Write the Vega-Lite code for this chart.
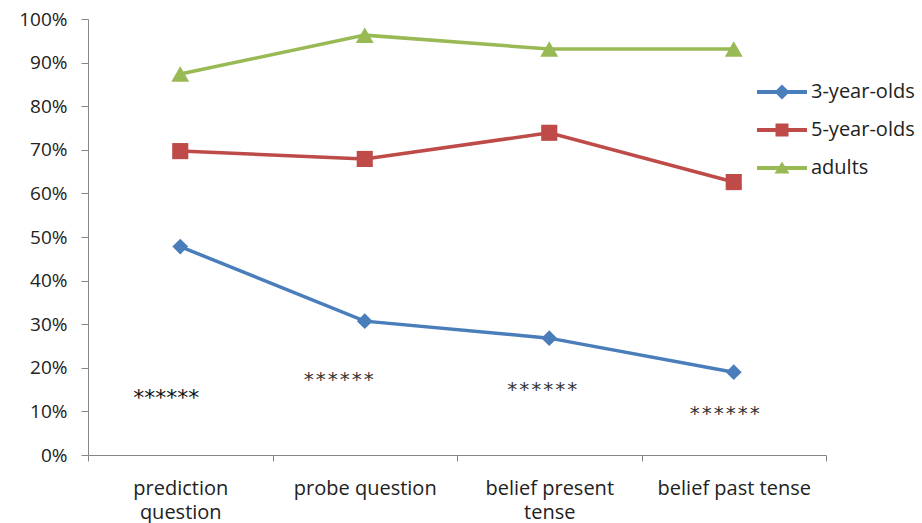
{
  "$schema": "https://vega.github.io/schema/vega-lite/v6.json",
  "width": 738,
  "height": 436,
  "autosize": {"type": "none"},
  "padding": {"left": 88, "top": 19, "right": 96, "bottom": 68},
  "background": "white",
  "config": {
    "view": {"stroke": null},
    "font": "Open Sans",
    "axis": {"domainColor": "#868686", "tickColor": "#868686", "labelColor": "#222", "labelFont": "Open Sans", "labelFontSize": 20, "grid": false, "title": null},
    "legend": {"title": null, "orient": "none", "legendX": 684, "legendY": 63, "padding": 0, "symbolOpacity": 1, "symbolStrokeWidth": 0,
               "symbolSize": 400, "rowPadding": 18, "labelOffset": 19, "labelFontSize": 20, "labelFont": "Open Sans", "labelColor": "#222"}
  },
  "datasets": {
    "scores": [
      {"q": "prediction question", "group": "3-year-olds", "v": 0.478},
      {"q": "probe question", "group": "3-year-olds", "v": 0.307},
      {"q": "belief present tense", "group": "3-year-olds", "v": 0.268},
      {"q": "belief past tense", "group": "3-year-olds", "v": 0.19},
      {"q": "prediction question", "group": "5-year-olds", "v": 0.697},
      {"q": "probe question", "group": "5-year-olds", "v": 0.679},
      {"q": "belief present tense", "group": "5-year-olds", "v": 0.739},
      {"q": "belief past tense", "group": "5-year-olds", "v": 0.626},
      {"q": "prediction question", "group": "adults", "v": 0.874},
      {"q": "probe question", "group": "adults", "v": 0.963},
      {"q": "belief present tense", "group": "adults", "v": 0.931},
      {"q": "belief past tense", "group": "adults", "v": 0.931}
    ],
    "stars": [
      {"q": "prediction question", "label": "******", "v": 0.13},
      {"q": "probe question", "label": "******", "v": 0.173},
      {"q": "belief present tense", "label": "******", "v": 0.148},
      {"q": "belief past tense", "label": "******", "v": 0.094}
    ]
  },
  "layer": [
    {
      "data": {"name": "scores"},
      "mark": {"type": "point", "filled": true, "opacity": 0, "size": 400},
      "encoding": {
        "x": {"field": "q", "type": "nominal", "sort": null,
              "scale": {"type": "band", "paddingInner": 0, "paddingOuter": 0},
              "axis": {"tickBand": "extent", "tickSize": 6, "labelAngle": 0, "labelPadding": 17, "labelBaseline": "top", "labelLineHeight": 24, "labelOverlap": false,
                       "labelExpr": "datum.value == 'prediction question' ? ['prediction', 'question'] : datum.value == 'belief present tense' ? ['belief present', 'tense'] : datum.value"}},
        "y": {"field": "v", "type": "quantitative",
              "scale": {"domain": [0, 1], "nice": false},
              "axis": {"format": "%", "values": [0, 0.1, 0.2, 0.3, 0.4, 0.5, 0.6, 0.7, 0.8, 0.9, 1], "tickSize": 7, "labelPadding": 14, "labelFontSize": 19}},
        "color": {"field": "group", "type": "nominal",
                  "scale": {"domain": ["3-year-olds", "5-year-olds", "adults"], "range": ["#4A7EBB", "#BE4B48", "#98B954"]}},
        "shape": {"field": "group", "type": "nominal",
                  "scale": {"domain": ["3-year-olds", "5-year-olds", "adults"],
                            "range": ["M-2.5,-0.2L2.5,-0.2L2.5,0.2L-2.5,0.2ZM0,-0.75L0.75,0L0,0.75L-0.75,0Z",
                                      "M-2.5,-0.2L2.5,-0.2L2.5,0.2L-2.5,0.2ZM-0.65,-0.65L0.65,-0.65L0.65,0.65L-0.65,0.65Z",
                                      "M-2.5,-0.2L2.5,-0.2L2.5,0.2L-2.5,0.2ZM0,-0.65L0.75,0.55L-0.75,0.55Z"]}}
      }
    },
    {
      "data": {"name": "scores"},
      "mark": {"type": "line", "strokeWidth": 3.5},
      "encoding": {
        "x": {"field": "q", "type": "nominal", "sort": null},
        "y": {"field": "v", "type": "quantitative"},
        "color": {"field": "group", "type": "nominal"}
      }
    },
    {
      "data": {"name": "scores"},
      "transform": [{"filter": "datum.group == '3-year-olds'"}],
      "mark": {"type": "point", "filled": true, "opacity": 1, "shape": "diamond", "size": 250},
      "encoding": {
        "x": {"field": "q", "type": "nominal", "sort": null},
        "y": {"field": "v", "type": "quantitative"},
        "color": {"field": "group", "type": "nominal"}
      }
    },
    {
      "data": {"name": "scores"},
      "transform": [{"filter": "datum.group == '5-year-olds'"}],
      "mark": {"type": "point", "filled": true, "opacity": 1, "shape": "square", "size": 260},
      "encoding": {
        "x": {"field": "q", "type": "nominal", "sort": null},
        "y": {"field": "v", "type": "quantitative"},
        "color": {"field": "group", "type": "nominal"}
      }
    },
    {
      "data": {"name": "scores"},
      "transform": [{"filter": "datum.group == 'adults'"}],
      "mark": {"type": "point", "filled": true, "opacity": 1, "shape": "triangle-up", "size": 320},
      "encoding": {
        "x": {"field": "q", "type": "nominal", "sort": null},
        "y": {"field": "v", "type": "quantitative"},
        "color": {"field": "group", "type": "nominal"}
      }
    },
    {
      "data": {"name": "stars"},
      "transform": [{"filter": "datum.q == 'prediction question'"}],
      "mark": {"type": "text", "font": "DejaVu Sans", "fontSize": 22, "color": "#111", "dx": -14, "baseline": "middle"},
      "encoding": {
        "x": {"field": "q", "type": "nominal", "sort": null},
        "y": {"field": "v", "type": "quantitative"},
        "text": {"field": "label"}
      }
    },
    {
      "data": {"name": "stars"},
      "transform": [{"filter": "datum.q == 'probe question'"}],
      "mark": {"type": "text", "font": "DejaVu Sans Mono", "fontSize": 20, "color": "#333", "dx": -26, "baseline": "middle"},
      "encoding": {
        "x": {"field": "q", "type": "nominal", "sort": null},
        "y": {"field": "v", "type": "quantitative"},
        "text": {"field": "label"}
      }
    },
    {
      "data": {"name": "stars"},
      "transform": [{"filter": "datum.q == 'belief present tense'"}],
      "mark": {"type": "text", "font": "DejaVu Sans Mono", "fontSize": 20, "color": "#333", "dx": -7, "baseline": "middle"},
      "encoding": {
        "x": {"field": "q", "type": "nominal", "sort": null},
        "y": {"field": "v", "type": "quantitative"},
        "text": {"field": "label"}
      }
    },
    {
      "data": {"name": "stars"},
      "transform": [{"filter": "datum.q == 'belief past tense'"}],
      "mark": {"type": "text", "font": "DejaVu Sans Mono", "fontSize": 20, "color": "#333", "dx": -9, "baseline": "middle"},
      "encoding": {
        "x": {"field": "q", "type": "nominal", "sort": null},
        "y": {"field": "v", "type": "quantitative"},
        "text": {"field": "label"}
      }
    }
  ]
}
